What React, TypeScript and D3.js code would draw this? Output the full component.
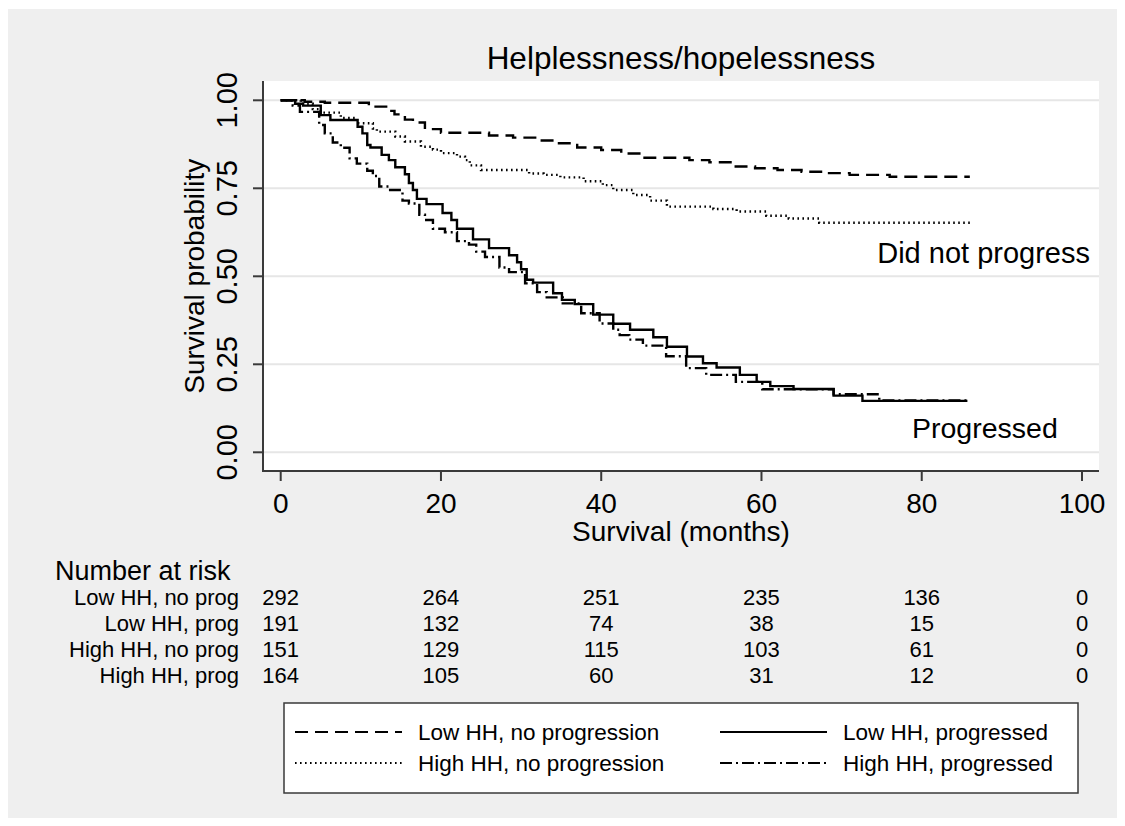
import React from "react";
import * as d3 from "d3";

// ---- data ----
const title = "Helplessness/hopelessness";
const xTicks = [0, 20, 40, 60, 80, 100];
const yTicks = [0, 0.25, 0.5, 0.75, 1];
const yTickLabels = ["0.00", "0.25", "0.50", "0.75", "1.00"];

const riskTimes = [0, 20, 40, 60, 80, 100];
const riskGroups = ["Low HH, no prog", "Low HH, prog", "High HH, no prog", "High HH, prog"];
const riskLowNoProg = [292, 264, 251, 235, 136, 0];
const riskLowProg = [191, 132, 74, 38, 15, 0];
const riskHighNoProg = [151, 129, 115, 103, 61, 0];
const riskHighProg = [164, 105, 60, 31, 12, 0];

// Kaplan-Meier steps: [months, survival]
const lowNoProg: [number, number][] = [
  [0, 1], [3, 0.996], [5.5, 0.993], [11, 0.982], [13.5, 0.97], [14.2, 0.96], [15.5, 0.945],
  [16.5, 0.937], [18, 0.918], [20, 0.908], [26, 0.9], [29, 0.894], [32, 0.886], [34.5, 0.878],
  [37, 0.866], [40, 0.859], [42.5, 0.849], [45, 0.837], [51, 0.83], [53.5, 0.824], [56.3, 0.812],
  [59.2, 0.807], [62, 0.802], [65, 0.797], [68, 0.793], [71, 0.788], [76, 0.783], [86, 0.783],
];
const highNoProg: [number, number][] = [
  [0, 1], [2.5, 0.99], [4, 0.975], [5, 0.965], [7.5, 0.95], [9.5, 0.935], [11.5, 0.92], [12, 0.911],
  [14.3, 0.897], [15.5, 0.883], [17.5, 0.868], [19, 0.86], [20, 0.85], [22, 0.84], [23, 0.83],
  [23.6, 0.815], [25, 0.802], [31, 0.792], [32.8, 0.788], [34.9, 0.781], [37.8, 0.77], [40.2, 0.759],
  [41.5, 0.745], [44, 0.731], [46.1, 0.715], [48.2, 0.698], [54, 0.691], [56.9, 0.684], [60.6, 0.672],
  [63.4, 0.664], [67.2, 0.652], [86, 0.652],
];
const lowProg: [number, number][] = [
  [0, 1], [1.8, 0.99], [2.8, 0.985], [5, 0.958], [6.2, 0.944], [9.6, 0.925], [10.2, 0.906],
  [10.8, 0.873], [11.2, 0.866], [12.6, 0.845], [13.5, 0.83], [14.3, 0.81], [15.5, 0.79], [16, 0.765],
  [16.5, 0.745], [17, 0.72], [18.2, 0.705], [20.2, 0.68], [21.3, 0.66], [22, 0.635], [24, 0.605],
  [26, 0.58], [28.5, 0.56], [29.5, 0.54], [30, 0.52], [30.7, 0.49], [31.5, 0.482], [34, 0.452],
  [35.1, 0.433], [36.7, 0.421], [39, 0.391], [41.5, 0.365], [43.6, 0.348], [46.5, 0.327], [48.2, 0.3],
  [50.7, 0.272], [52.7, 0.253], [54.4, 0.241], [57.3, 0.22], [59.4, 0.2], [61.1, 0.188], [64, 0.18],
  [69, 0.161], [72.6, 0.146], [85.7, 0.146],
];
const highProg: [number, number][] = [
  [0, 1], [1.5, 0.985], [2.4, 0.967], [4.8, 0.93], [5.5, 0.906], [6.5, 0.88], [7.5, 0.865],
  [8.6, 0.835], [9.5, 0.82], [10.8, 0.8], [11.5, 0.785], [12.3, 0.755], [13.5, 0.745], [15.2, 0.715],
  [16, 0.707], [17.3, 0.675], [18, 0.66], [19, 0.635], [20.5, 0.625], [22, 0.6], [23.5, 0.59],
  [24.4, 0.57], [25.5, 0.555], [27.3, 0.525], [28.5, 0.512], [30.5, 0.48], [32, 0.455], [33.2, 0.44],
  [35.2, 0.423], [37.5, 0.395], [39.8, 0.366], [41.5, 0.348], [42.3, 0.333], [43.5, 0.32],
  [45.2, 0.303], [48.1, 0.273], [50.6, 0.239], [53.1, 0.22], [56.8, 0.2], [60.1, 0.179], [69, 0.165],
  [74.7, 0.147], [85.7, 0.147],
];

const legendLabels = ["Low HH, no progression", "Low HH, progressed", "High HH, no progression", "High HH, progressed"];

const FONT = "'Liberation Sans', Arial, Helvetica, sans-serif";

export default function App() {
  const x = d3.scaleLinear().domain([0, 100]).range([280.7, 1082]);
  const y = d3.scaleLinear().domain([0, 1]).range([452.3, 100.3]);
  const line = d3.line<[number, number]>()
    .x((d) => x(d[0]))
    .y((d) => y(d[1]))
    .curve(d3.curveStepAfter);

  const plot = { left: 263, right: 1099, top: 81, bottom: 471 };

  const series = [
    { data: lowNoProg, dash: "13,7" },
    { data: lowProg, dash: "none" },
    { data: highNoProg, dash: "1.6,3.4" },
    { data: highProg, dash: "12,4,2,4" },
  ];

  const riskRows = [riskLowNoProg, riskLowProg, riskHighNoProg, riskHighProg];
  const rowBase = [605, 631, 657, 683];

  // legend: order as in the key (col1 row1, col2 row1, col1 row2, col2 row2)
  const legendItems = [
    { label: legendLabels[0], dash: series[0].dash, col: 0, row: 0 },
    { label: legendLabels[1], dash: series[1].dash, col: 1, row: 0 },
    { label: legendLabels[2], dash: series[2].dash, col: 0, row: 1 },
    { label: legendLabels[3], dash: series[3].dash, col: 1, row: 1 },
  ];
  const colX = [295, 720];
  const rowY = [732, 763];

  return (
    <svg
      width={1125}
      height={826}
      style={{ position: "absolute", left: 0, top: 0, display: "block", background: "#fff" }}
      fontFamily={FONT}
    >
      <rect x={8} y={9} width={1109} height={809} fill="#efefef" />
      <rect x={plot.left} y={plot.top} width={plot.right - plot.left} height={plot.bottom - plot.top} fill="#fff" />

      {/* grid */}
      {yTicks.map((t) => (
        <line key={"g" + t} x1={plot.left} x2={plot.right} y1={y(t)} y2={y(t)} stroke="#e6e6e6" strokeWidth={2} />
      ))}

      {/* curves */}
      {series.map((s, i) => (
        <path key={i} d={line(s.data) || ""} fill="none" stroke="#000" strokeWidth={2.4}
          strokeDasharray={s.dash} />
      ))}

      {/* axes */}
      <line x1={plot.left} x2={plot.left} y1={plot.top} y2={plot.bottom + 1} stroke="#3a3a3a" strokeWidth={2} />
      <line x1={plot.left} x2={plot.right} y1={plot.bottom} y2={plot.bottom} stroke="#3a3a3a" strokeWidth={2} />
      {yTicks.map((t, i) => (
        <g key={"y" + t}>
          <line x1={plot.left - 10} x2={plot.left} y1={y(t)} y2={y(t)} stroke="#3a3a3a" strokeWidth={2} />
          <text transform={`translate(237,${y(t)}) rotate(-90)`} textAnchor="middle" fontSize={29} fill="#000">
            {yTickLabels[i]}
          </text>
        </g>
      ))}
      {xTicks.map((t) => (
        <g key={"x" + t}>
          <line x1={x(t)} x2={x(t)} y1={plot.bottom} y2={plot.bottom + 10} stroke="#3a3a3a" strokeWidth={2} />
          <text x={x(t)} y={513} textAnchor="middle" fontSize={28} fill="#000">{t}</text>
        </g>
      ))}

      <text transform={`translate(204,${y(0.5)}) rotate(-90)`} textAnchor="middle" fontSize={28} fill="#000">
        Survival probability
      </text>
      <text x={681} y={541} textAnchor="middle" fontSize={28} fill="#000">Survival (months)</text>
      <text x={681} y={69} textAnchor="middle" fontSize={31.5} fill="#000">{title}</text>

      <text x={1090} y={263} textAnchor="end" fontSize={29} fill="#000">Did not progress</text>
      <text x={912} y={438} fontSize={28.5} fill="#000">Progressed</text>

      {/* number at risk table */}
      <text x={55} y={580} fontSize={27} fill="#000">Number at risk</text>
      {riskGroups.map((g, r) => (
        <g key={g}>
          <text x={239} y={rowBase[r]} textAnchor="end" fontSize={22} fill="#000">{g}</text>
          {riskRows[r].map((n, c) => (
            <text key={c} x={x(riskTimes[c])} y={rowBase[r]} textAnchor="middle" fontSize={22} fill="#000">{n}</text>
          ))}
        </g>
      ))}

      {/* legend */}
      <rect x={284} y={703} width={794} height={90} fill="#fff" stroke="#3a3a3a" strokeWidth={1.5} />
      {legendItems.map((it) => (
        <g key={it.label}>
          <line x1={colX[it.col]} x2={colX[it.col] + 107} y1={rowY[it.row]} y2={rowY[it.row]}
            stroke="#000" strokeWidth={2} strokeDasharray={it.dash} />
          <text x={colX[it.col] + 123} y={rowY[it.row] + 8} fontSize={22.5} fill="#000">{it.label}</text>
        </g>
      ))}
    </svg>
  );
}
